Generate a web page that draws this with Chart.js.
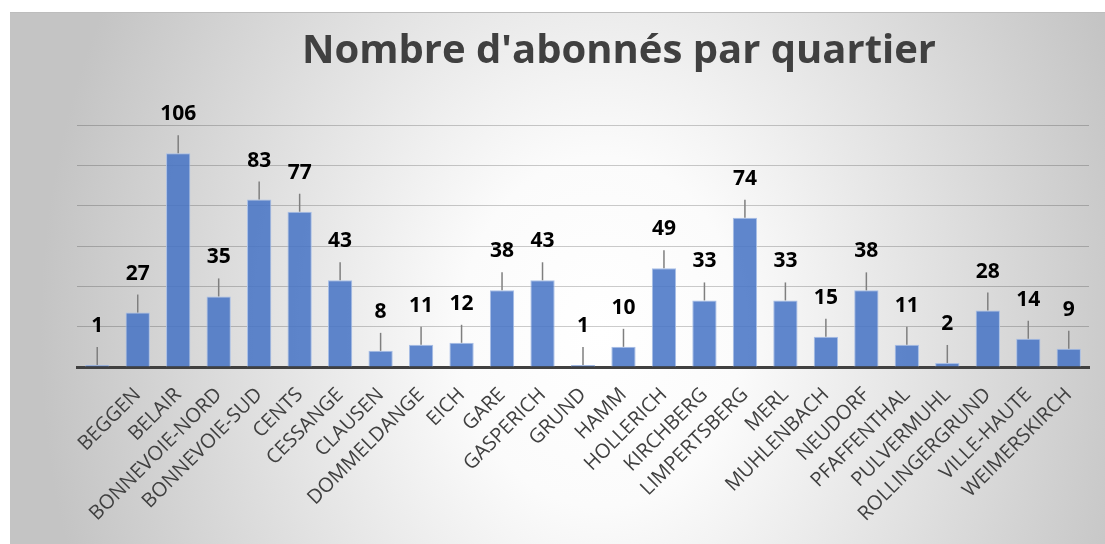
<!DOCTYPE html>
<html>
<head>
<meta charset="utf-8">
<script src="https://cdn.jsdelivr.net/npm/chart.js@4"></script>
<style>
  body { margin: 0; background: #fff; }
  #frame {
    position: absolute; left: 10px; top: 12px; width: 1095px; height: 532px;
    background: radial-gradient(ellipse 560px 700px at 590px 320px, #ffffff 0%, #fbfbfb 25%, #c4c4c4 100%);
    box-shadow: inset 0 1px 0 #bdbdbd;
  }
</style>
</head>
<body>
<div id="frame"><canvas id="chart"></canvas></div>
<script>
// first category has no name in the source sheet
const quartiers = ['', 'BEGGEN', 'BELAIR', 'BONNEVOIE-NORD', 'BONNEVOIE-SUD', 'CENTS', 'CESSANGE',
  'CLAUSEN', 'DOMMELDANGE', 'EICH', 'GARE', 'GASPERICH', 'GRUND', 'HAMM', 'HOLLERICH',
  'KIRCHBERG', 'LIMPERTSBERG', 'MERL', 'MUHLENBACH', 'NEUDORF', 'PFAFFENTHAL', 'PULVERMUHL',
  'ROLLINGERGRUND', 'VILLE-HAUTE', 'WEIMERSKIRCH'];
const abonnes = [1, 27, 106, 35, 83, 77, 43, 8, 11, 12, 38, 43, 1, 10, 49, 33, 74, 33, 15, 38, 11, 2, 28, 14, 9];
const titre = "Nombre d'abonnés par quartier";

// value labels sit above each bar, tied to it by a short grey leader line
const leaderLabels = {
  id: 'leaderLabels',
  afterDatasetsDraw(chart) {
    const ctx = chart.ctx;
    const meta = chart.getDatasetMeta(0);
    ctx.save();
    meta.data.forEach((bar, i) => {
      const top = Math.min(bar.y, bar.base);
      ctx.strokeStyle = '#7f7f7f';
      ctx.lineWidth = 1.5;
      ctx.beginPath();
      ctx.moveTo(bar.x, top);
      ctx.lineTo(bar.x, top - 18);
      ctx.stroke();
      ctx.fillStyle = '#000';
      ctx.font = 'bold 21px "Open Sans"';
      ctx.textAlign = 'center';
      ctx.textBaseline = 'middle';
      ctx.fillText(String(abonnes[i]), bar.x, top - 39);
    });
    ctx.restore();
  }
};

const chartTitle = {
  id: 'chartTitle',
  afterDraw(chart) {
    const ctx = chart.ctx;
    ctx.save();
    ctx.fillStyle = '#404040';
    ctx.font = 'bold 40px "Open Sans"';
    ctx.textAlign = 'center';
    ctx.textBaseline = 'alphabetic';
    ctx.fillText(titre, 609, 51);
    ctx.restore();
  }
};

const canvas = document.getElementById('chart');

new Chart(canvas, {
  type: 'bar',
  data: {
    labels: quartiers,
    datasets: [{
      label: 'Abonnés',
      data: abonnes,
      backgroundColor: 'rgba(68, 114, 196, 0.85)',
      borderColor: '#a9bfe6',
      borderWidth: 1,
      barPercentage: 0.6,
      categoryPercentage: 1
    }]
  },
  options: {
    responsive: true,
    maintainAspectRatio: false,
    animation: false,
    layout: { padding: { left: 67, right: 16, top: 113, bottom: 0 } },
    plugins: {
      legend: { display: false },
      title: { display: false },
      tooltip: { enabled: false }
    },
    scales: {
      x: {
        grid: { display: false },
        border: { color: '#404040', width: 3 },
        ticks: {
          autoSkip: false,
          minRotation: 45,
          maxRotation: 45,
          padding: 8,
          color: '#404040',
          font: { family: 'Open Sans', size: 20 }
        },
        afterFit(scale) { scale.height = 177; }
      },
      y: {
        min: 0,
        max: 120,
        ticks: { display: false, stepSize: 20 },
        grid: { color: 'rgba(0, 0, 0, 0.2)', drawTicks: false },
        border: { display: false }
      }
    }
  },
  plugins: [leaderLabels, chartTitle]
});
</script>
</body>
</html>
